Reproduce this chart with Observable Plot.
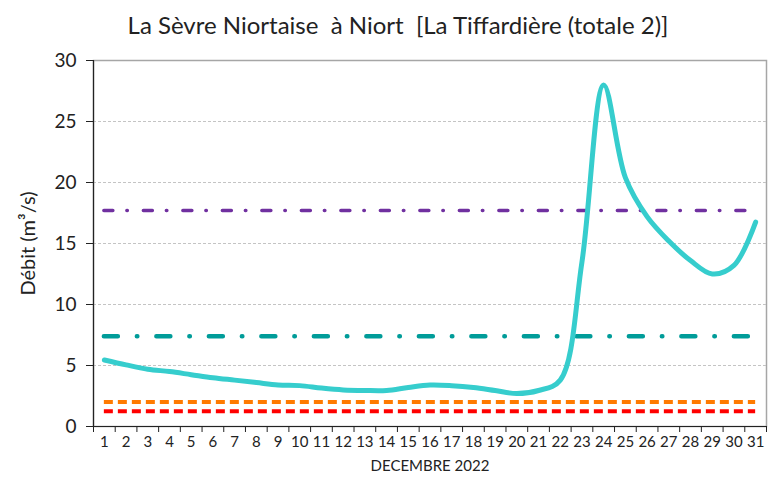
<!DOCTYPE html>
<html>
<head>
<meta charset="utf-8">
<script src="https://cdn.jsdelivr.net/npm/d3@7"></script>
<script src="https://cdn.jsdelivr.net/npm/@observablehq/plot@0.6"></script>
<style>
  body { margin: 0; background: #fff; font-family: Lato, "Open Sans", sans-serif; }
  #title { height: 36px; padding-top: 7px; line-height: 36px; text-align: center; font-size: 24px; color: #222; width: 748px; padding-left: 24px; box-sizing: content-box; white-space: pre; }
</style>
</head>
<body>
<div id="title">La Sèvre Niortaise  à Niort  [La Tiffardière (totale 2)]</div>
<div id="chart"></div>
<script>
const days = [1,2,3,4,5,6,7,8,9,10,11,12,13,14,15,16,17,18,19,20,21,22,23,24,25,26,27,28,29,30,31];
const debit = [5.45,5.05,4.7,4.5,4.25,4.0,3.8,3.6,3.4,3.35,3.15,3.0,2.95,2.95,3.2,3.4,3.35,3.2,2.95,2.7,2.95,3.8,13.5,28.0,20.4,17.2,15.2,13.6,12.5,13.2,16.75];
const yTicks = [0,5,10,15,20,25,30];
const gridValues = [5,10,15,20,25];
const thrPurple = 17.7;
const thrTeal = 7.4;
const thrOrange = 2.0;
const thrRed = 1.25;
const xTitle = "DECEMBRE 2022";
const yTitle = "Débit (m³/s)";

const series = days.map((d, i) => ({day: d, q: debit[i]}));
const boundaries = [...days.map(d => d - 0.5), days[days.length - 1] + 0.5];
const first = days[0], last = days[days.length - 1];

const chart = Plot.plot({
  width: 772,
  height: 437,
  marginTop: 17,
  marginBottom: 54,
  marginLeft: 93,
  marginRight: 6,
  style: {fontFamily: "Lato, 'Open Sans', sans-serif", color: "#222", background: "#fff", overflow: "visible"},
  x: {type: "linear", domain: [first - 0.5, last + 0.5], axis: null},
  y: {domain: [0, 30], axis: null},
  marks: [
    Plot.frame({stroke: "#a6a6a6", strokeWidth: 1.5}),
    Plot.ruleY(gridValues, {stroke: "#c4c4c4", strokeDasharray: "3,2", strokeWidth: 1}),
    Plot.ruleY([thrRed], {x1: first, x2: last, stroke: "#ff0000", strokeWidth: 4, strokeDasharray: "9,5"}),
    Plot.ruleY([thrOrange], {x1: first, x2: last, stroke: "#ff7a00", strokeWidth: 4, strokeDasharray: "9,5"}),
    Plot.ruleY([thrTeal], {x1: first, x2: last, stroke: "#009c99", strokeWidth: 4.5, strokeLinecap: "round", strokeDasharray: "14,19,0.5,19"}),
    Plot.ruleY([thrPurple], {x1: first, x2: last, stroke: "#7030a0", strokeWidth: 3.5, strokeLinecap: "round", strokeDasharray: "9,14,0.5,16"}),
    Plot.line(series, {x: "day", y: "q", curve: "catmull-rom", stroke: "#36cdcd", strokeWidth: 5, strokeLinejoin: "round", strokeLinecap: "round"}),
    Plot.ruleX([first - 0.5], {stroke: "#222", strokeWidth: 1.2}),
    Plot.ruleY([0], {stroke: "#222", strokeWidth: 1.2}),
    Plot.axisY({ticks: yTicks, tickSize: 7, tickPadding: 10, fontSize: 19, label: null, stroke: "#222"}),
    Plot.axisX({ticks: boundaries, tickSize: 6, tickFormat: () => "", label: null, stroke: "#222"}),
    Plot.axisX({ticks: days, tickSize: 0, tickPadding: 10, fontSize: 15, label: null, tickFormat: d => String(d)}),
    Plot.text([xTitle], {frameAnchor: "bottom", dy: 44, fontSize: 15, fill: "#222"}),
    Plot.text([yTitle], {frameAnchor: "left", dx: -65, rotate: -90, textAnchor: "middle", fontSize: 20, fill: "#222"})
  ]
});
document.getElementById("chart").appendChild(chart);
</script>
</body>
</html>
